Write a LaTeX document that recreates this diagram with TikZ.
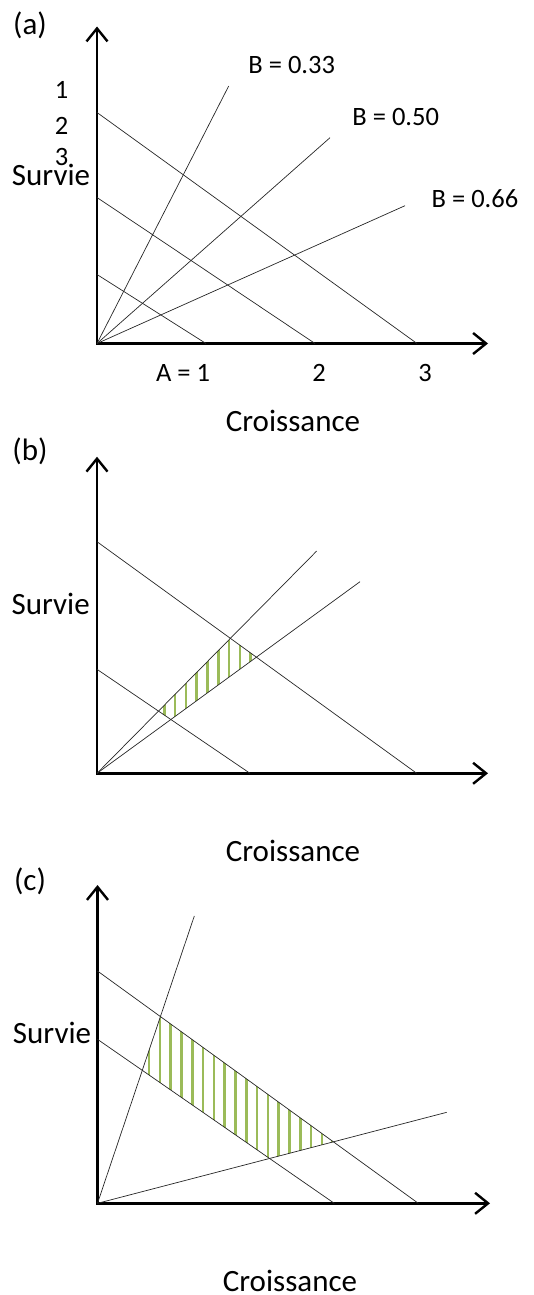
\documentclass[tikz,border=0pt]{standalone}
\usepackage{fontspec}
\setmainfont{Carlito}
\usepackage{xcolor}
\usetikzlibrary{arrows.meta}
\definecolor{hatchgreen}{RGB}{155,187,89}

\begin{document}
\begin{tikzpicture}[x=1pt, y=1pt,
    axisline/.style={line width=2.4pt, line join=miter,
        {Straight Barb[length=13pt, width=21pt]}-{Straight Barb[length=13pt, width=21pt]}},
    budget/.style={black!85, line width=0.7pt},
    ray/.style={black!85, line width=0.7pt},
    hatch/.style={hatchgreen, line width=2.6pt},
    biglabel/.style={inner sep=0pt, font=\fontsize{31}{37}\selectfont},
    ticklabel/.style={inner sep=0pt, font=\fontsize{26.5}{32}\selectfont}]
    % Page frame (533 x 1295)
    \useasboundingbox (0,0) rectangle (533,-1295);

    % ---------------- Panel (a) ----------------
    \begin{scope}[shift={(97,-343.5)}]
        \coordinate (oa) at (0,0);
        \draw[axisline] (0,317) -- (oa) -- (391,0);% Axes

        % Budget lines A = 1, 2, 3
        \draw[budget] (0,69) -- (109,0);
        \draw[budget] (0,146) -- (218,0);
        \draw[budget] (0,231) -- (320,0);

        % Rays from the origin
        \draw[ray] (oa) -- (131.7,257.5);
        \draw[ray] (oa) -- (233,205.8);
        \draw[ray] (oa) -- (308,137.8);

        \node[biglabel] (tag-a) at (-67,318.5) {(a)};
        \node[ticklabel] (b033) at (194.7,278.5) {B = 0.33};
        \node[ticklabel] (b050) at (298.7,226.5) {B = 0.50};
        \node[ticklabel] (b066) at (378,144.5) {B = 0.66};
        \node[ticklabel] (y1) at (-35.3,253.5) {1};
        \node[ticklabel] (y2) at (-35.3,217.5) {2};
        \node[ticklabel] (y3) at (-35.3,186.5) {3};
        \node[biglabel] (surv-a) at (-46,168.5) {Survie};
        \node[ticklabel] (x1) at (86,-29.5) {A = 1};
        \node[ticklabel] (x2) at (222,-29.5) {2};
        \node[ticklabel] (x3) at (328,-29.5) {3};
        \node[biglabel] (crois-a) at (196,-77.5) {Croissance};
    \end{scope}

    % ---------------- Panel (b) ----------------
    \begin{scope}[shift={(97,-773.3)}]
        \coordinate (ob) at (0,0);
        \coordinate (b-l1) at (0,104);     \coordinate (b-l1e) at (153,0);
        \coordinate (b-l2) at (0,231.6);   \coordinate (b-l2e) at (319.7,0);
        \coordinate (b-r1) at (219.7,222.3);
        \coordinate (b-r2) at (263,191.6);

        % Hatched zone between the two rays and the two lines
        \begin{scope}
            \clip (intersection of ob--b-r1 and b-l1--b-l1e)
               -- (intersection of ob--b-r2 and b-l1--b-l1e)
               -- (intersection of ob--b-r2 and b-l2--b-l2e)
               -- (intersection of ob--b-r1 and b-l2--b-l2e) -- cycle;
            \foreach \k in {0,...,12}
                \draw[hatch] (56.4+10.8*\k,0) -- ++(0,250);
        \end{scope}

        \draw[axisline] (0,316.6) -- (ob) -- (391,0);% Axes
        \draw[budget] (b-l1) -- (b-l1e);
        \draw[budget] (b-l2) -- (b-l2e);
        \draw[ray] (ob) -- (b-r1);
        \draw[ray] (ob) -- (b-r2);

        \node[biglabel] (tag-b) at (-67,321.6) {(b)};
        \node[biglabel] (surv-b) at (-46.3,169.3) {Survie};
        \node[biglabel] (crois-b) at (196,-77.4) {Croissance};
    \end{scope}

    % ---------------- Panel (c) ----------------
    \begin{scope}[shift={(97.5,-1203.3)}]
        \coordinate (oc) at (0,0);
        \coordinate (c-l1) at (0,164);     \coordinate (c-l1e) at (236.8,0);
        \coordinate (c-l2) at (0,232.3);   \coordinate (c-l2e) at (320.8,0);
        \coordinate (c-r1) at (96.8,287.3);
        \coordinate (c-r2) at (349.2,91);

        % Hatched zone between the two lines, cut by the two rays
        \begin{scope}
            \clip (intersection of oc--c-r1 and c-l2--c-l2e)
               -- (intersection of oc--c-r1 and c-l1--c-l1e)
               -- (intersection of oc--c-r2 and c-l1--c-l1e)
               -- (intersection of oc--c-r2 and c-l2--c-l2e) -- cycle;
            \foreach \k in {0,...,20}
                \draw[hatch] (51.5+10.8*\k,0) -- ++(0,250);
        \end{scope}

        \draw[axisline] (0,318.3) -- (oc) -- (392.5,0);% Axes
        \draw[budget] (c-l1) -- (c-l1e);
        \draw[budget] (c-l2) -- (c-l2e);
        \draw[ray] (oc) -- (c-r1);
        \draw[ray] (oc) -- (c-r2);

        \node[biglabel] (tag-c) at (-67.5,321.6) {(c)};
        \node[biglabel] (surv-c) at (-45.5,170.3) {Survie};
        \node[biglabel] (crois-c) at (192.5,-77.4) {Croissance};
    \end{scope}
\end{tikzpicture}
\end{document}
